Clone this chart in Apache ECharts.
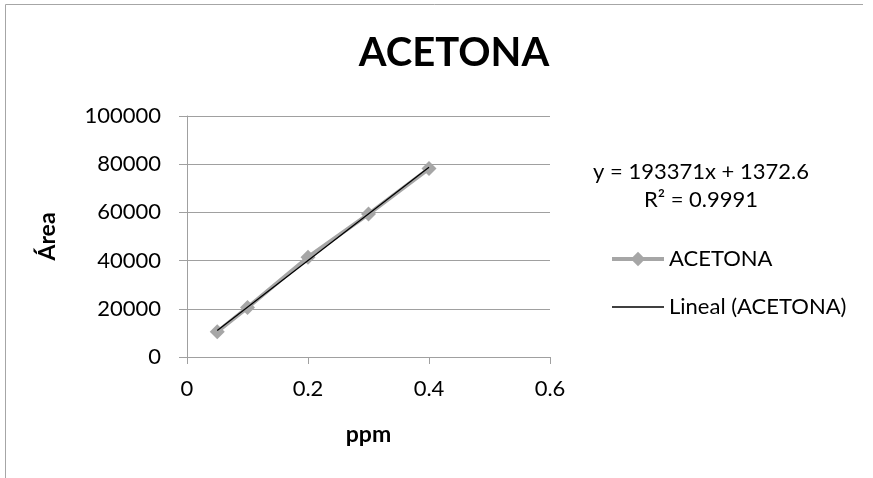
<!DOCTYPE html>
<html>
<head>
<meta charset="utf-8">
<script src="https://cdn.jsdelivr.net/npm/echarts@6/dist/echarts.min.js"></script>
<style>
  html, body { margin: 0; padding: 0; background: #fff; }
  #chart { width: 873px; height: 478px; }
</style>
</head>
<body>
<div id="chart"></div>
<script>
// datos
var ppm = [0.05, 0.1, 0.2, 0.3, 0.4];
var area = [10500, 20500, 41400, 59300, 78200];
var xTicks = [0, 0.2, 0.4, 0.6];
var yTicks = [0, 20000, 40000, 60000, 80000, 100000];
// línea de tendencia (Excel)
var slope = 193371;
var intercept = 1372.6;
var r2 = 0.9991;
var trendX = [0.05, 0.4];

var FONT = 'Lato';

var points = ppm.map(function (x, i) { return [x, area[i]]; });
var trend = trendX.map(function (x) { return [x, slope * x + intercept]; });

var chart = echarts.init(document.getElementById('chart'));
chart.setOption({
    animation: false,
    textStyle: { fontFamily: FONT, color: '#000' },
    title: {
        text: 'ACETONA',
        left: 449, top: 28,
        textAlign: 'center',
        textStyle: { fontFamily: FONT, fontSize: 40, fontWeight: 'bold', color: '#000' }
    },
    grid: { left: 187, top: 116, width: 363, height: 241 },
    xAxis: {
        type: 'value',
        min: xTicks[0], max: xTicks[xTicks.length - 1], interval: 0.2,
        name: 'ppm', nameLocation: 'middle', nameGap: 66,
        nameTextStyle: { fontFamily: FONT, fontSize: 23, fontWeight: 'bold', color: '#000' },
        axisLine: { lineStyle: { color: '#a0a0a0', width: 1 } },
        axisTick: { show: true, inside: false, length: 7, lineStyle: { color: '#a0a0a0' } },
        axisLabel: { fontFamily: FONT, fontSize: 22, color: '#000', margin: 21,
            formatter: function (v) { return String(v); } },
        splitLine: { show: false }
    },
    yAxis: {
        type: 'value',
        min: yTicks[0], max: yTicks[yTicks.length - 1], interval: 20000,
        name: 'Área', nameLocation: 'middle', nameGap: 128, nameRotate: 90,
        nameTextStyle: { fontFamily: FONT, fontSize: 23, fontWeight: 'bold', color: '#000' },
        axisLine: { show: true, lineStyle: { color: '#a0a0a0', width: 1 } },
        axisTick: { show: true, inside: false, length: 8, lineStyle: { color: '#a0a0a0' } },
        axisLabel: { fontFamily: FONT, fontSize: 22, color: '#000', margin: 26,
            formatter: function (v) { return String(v); } },
        splitLine: { show: true, lineStyle: { color: '#a0a0a0', width: 1 } }
    },
    legend: {
        orient: 'vertical',
        left: 605, top: 243,
        itemWidth: 52, itemHeight: 18, itemGap: 26,
        textStyle: { fontFamily: FONT, fontSize: 22, color: '#000' },
        data: [
            { name: 'ACETONA', lineStyle: { width: 4, color: '#a6a6a6' } },
            { name: 'Lineal (ACETONA)', lineStyle: { width: 1.5, color: '#000' },
              itemStyle: { color: 'rgba(0,0,0,0)', opacity: 0 } }
        ]
    },
    graphic: [
        {
            type: 'polyline', silent: true,
            shape: { points: [[5.5, 478], [5.5, 4.5], [863, 4.5]] },
            style: { stroke: '#a6a6a6', lineWidth: 1, fill: null }
        },
        {
            type: 'text', silent: true,
            x: 701, y: 172,
            style: {
                text: 'y = ' + slope + 'x + ' + intercept,
                font: '22px ' + FONT, fill: '#000', align: 'center', verticalAlign: 'middle'
            }
        },
        {
            type: 'text', silent: true,
            x: 701, y: 200,
            style: {
                text: 'R² = ' + r2,
                font: '22px ' + FONT, fill: '#000', align: 'center', verticalAlign: 'middle'
            }
        }
    ],
    series: [
        {
            name: 'ACETONA',
            type: 'line',
            data: points,
            symbol: 'diamond', symbolSize: 15,
            lineStyle: { color: '#a6a6a6', width: 4 },
            itemStyle: { color: '#a6a6a6' },
            z: 2
        },
        {
            name: 'Lineal (ACETONA)',
            type: 'line',
            data: trend,
            symbol: 'none',
            lineStyle: { color: '#000', width: 1.3 },
            itemStyle: { color: '#000' },
            z: 3
        }
    ]
});
</script>
</body>
</html>
